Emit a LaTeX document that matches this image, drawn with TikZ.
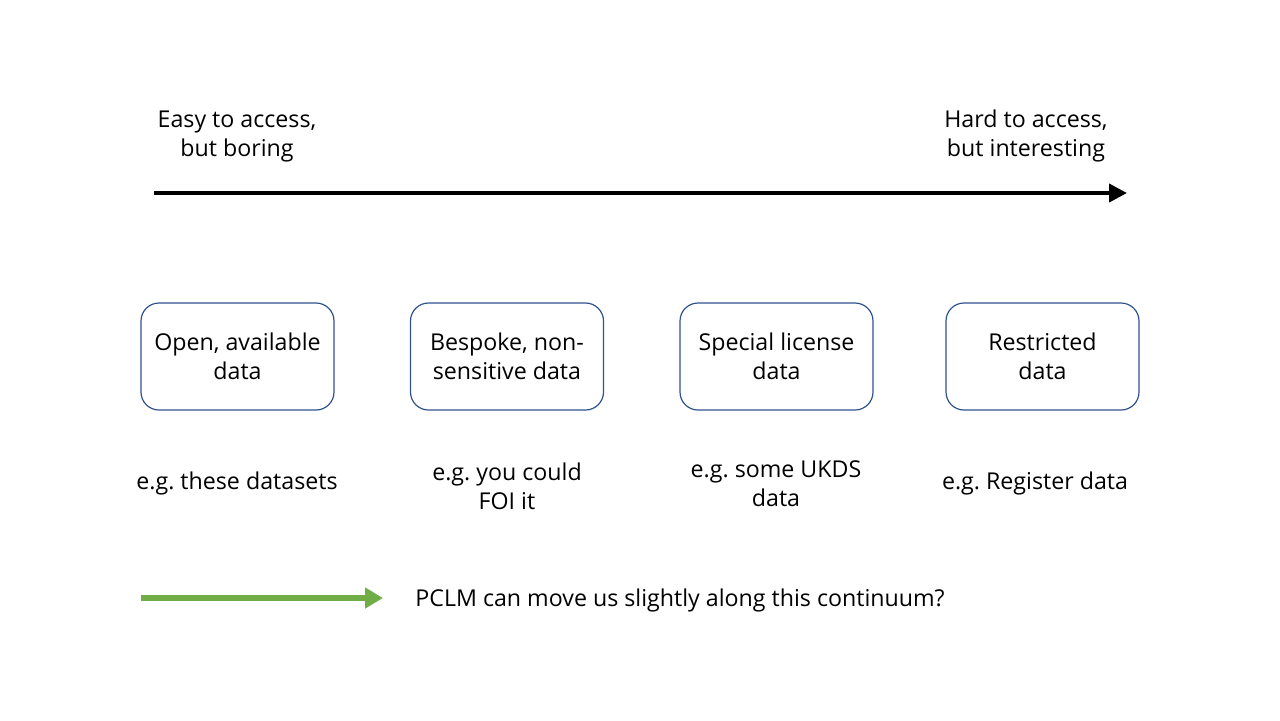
\documentclass[tikz,border=0pt]{standalone}
\usepackage{fontspec}
\setmainfont{Open Sans}
\frenchspacing
\usetikzlibrary{arrows.meta,positioning}
\definecolor{boxblue}{HTML}{2F528F}
\definecolor{pclmgreen}{HTML}{70AD47}
\newcommand{\boxtext}[2]{\raisebox{-1.5pt}[\height][\depth]{\begin{tabular}{@{}c@{}}#1\\#2\end{tabular}}}
\tikzset{
  every picture/.style={line join=round},
  databox/.style={draw=boxblue, line width=0.6pt, rounded corners=9pt, minimum width=96.5pt, minimum height=53.5pt, align=center, font=\fontsize{11.6}{14.5}\selectfont},
  label/.style={align=center, font=\fontsize{11.6}{14.5}\selectfont},
}
\begin{document}
\begin{tikzpicture}[x=0.5pt,y=-0.5pt]
\useasboundingbox (0,0) rectangle (1280,720);
% top scale
\node[label] (easy) at (237,136) {Easy to access,\\but boring};
\node[label] (hard) at (1026,136) {Hard to access,\\but interesting};
\coordinate (scalestart) at (154,193);
\coordinate (scaleend) at (1127,193);
\draw[line width=2pt,-{Triangle[length=9pt,width=9pt]}] (scalestart)--(scaleend);
% data types
\node[databox] (open) at (237.5,356.5) {\boxtext{Open, available}{data}};
\node[databox] (bespoke) at (507,356.5) {\boxtext{Bespoke, non-}{sensitive data}};
\node[databox] (special) at (776.5,356.5) {\boxtext{Special license}{data}};
\node[databox] (restricted) at (1042.5,356.5) {\boxtext{Restricted}{data}};
% examples
\node[label] (exopen) at (237,483.5) {e.g. these datasets};
\node[label] (exbespoke) at (507,486) {e.g. you could\\FOI it};
\node[label] (exspecial) at (776,484) {e.g. some UKDS\\data};
\node[label] (exrestricted) at (1035,483.5) {e.g. Register data};
% PCLM
\coordinate (pclmstart) at (141,598);
\coordinate (pclmend) at (383,598);
\draw[pclmgreen,line width=3pt,-{Triangle[length=9pt,width=10pt]}] (pclmstart)--(pclmend);
\node[label,anchor=west,inner sep=0pt] (pclm) at (415,600) {PCLM can move us slightly along this continuum?};
\end{tikzpicture}
\end{document}
